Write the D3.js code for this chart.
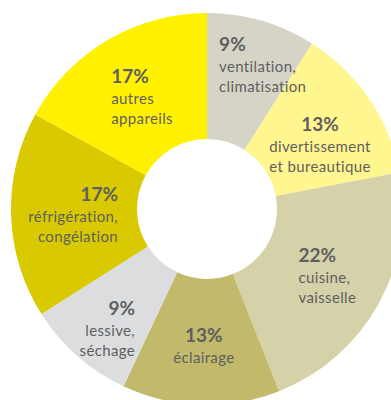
<!DOCTYPE html>
<html>
<head>
<meta charset="utf-8">
<script src="https://cdn.jsdelivr.net/npm/d3@7"></script>
<style>
  body { margin: 0; background: #fff; }
  svg text { font-family: Lato, "Open Sans", sans-serif; fill: #5f5f5f; }
</style>
</head>
<body>
<svg id="chart"></svg>
<script>
// data, clockwise from 12 o'clock
var values = [9, 13, 22, 13, 9, 17, 17];
var labelLine1 = ["ventilation,", "divertissement", "cuisine,", "éclairage", "lessive,", "réfrigération,", "autres"];
var labelLine2 = ["climatisation", "et bureautique", "vaisselle", "", "séchage", "congélation", "appareils"];
var colors = ["#d6d4c7", "#fff68f", "#d5d1a9", "#c3b96b", "#dcdddf", "#d9c900", "#fff100"];

// label layout: anchor and nudge from the slice centroid
var anchors = ["start", "middle", "start", "middle", "end", "end", "start"];
var nudgeX = [-25, 3, -25, 1, 16, 44, -28];
var nudgeY = [-15, 12, 4, 4, 21, 3, 3];

var width = 391, height = 400;
var cx = 207, cy = 209;
var inner = 70, outer = 196;

var svg = d3.select("#chart")
    .attr("width", width)
    .attr("height", height);

var g = svg.append("g")
    .attr("transform", "translate(" + cx + "," + cy + ")");

var pie = d3.pie().sort(null).value(function(d) { return d; });
var arc = d3.arc().innerRadius(inner).outerRadius(outer);
var labelArc = d3.arc().innerRadius(133).outerRadius(133);

var arcs = pie(values);

g.selectAll("path")
    .data(arcs)
    .enter().append("path")
    .attr("d", arc)
    .attr("fill", function(d, i) { return colors[i]; });

var labels = g.selectAll("g.lab")
    .data(arcs)
    .enter().append("g")
    .attr("class", "lab")
    .attr("transform", function(d, i) {
        var c = labelArc.centroid(d);
        return "translate(" + (c[0] + nudgeX[i]) + "," + (c[1] + nudgeY[i]) + ")";
    })
    .attr("text-anchor", function(d, i) { return anchors[i]; });

labels.each(function(d, i) {
    var two = labelLine2[i] === "";
    var top = two ? -4 : -15;
    var el = d3.select(this);
    el.append("text")
        .attr("y", top)
        .style("font-size", "19px")
        .style("font-weight", "bold")
        .text(values[i] + "%");
    el.append("text")
        .attr("y", top + 21)
        .style("font-size", "15px")
        .style("letter-spacing", "0.35px")
        .text(labelLine1[i]);
    if (!two) {
        el.append("text")
            .attr("y", top + 41)
            .style("font-size", "15px")
            .style("letter-spacing", "0.35px")
            .text(labelLine2[i]);
    }
});
</script>
</body>
</html>
